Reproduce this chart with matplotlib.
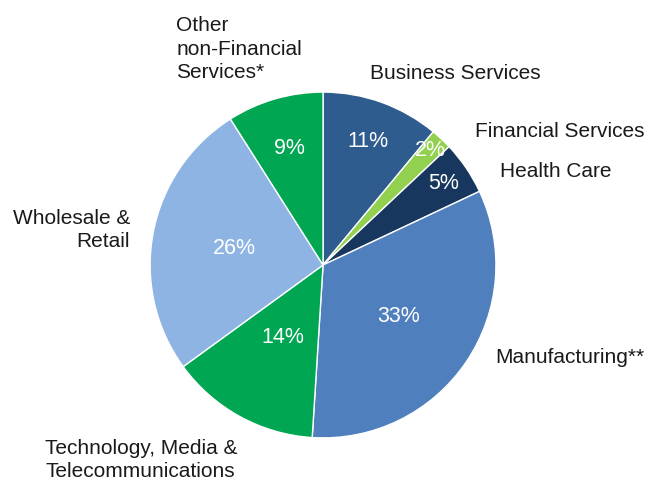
import numpy as np
import matplotlib
matplotlib.use("Agg")
import matplotlib.pyplot as plt

plt.rcParams['font.family'] = ['Liberation Sans', 'DejaVu Sans']

# sector shares, clockwise from 12 o'clock
sectors = ['Business Services', 'Financial Services', 'Health Care', 'Manufacturing**',
           'Technology, Media &\nTelecommunications', 'Wholesale &\nRetail',
           'Other\nnon-Financial\nServices*']
shares = [11, 2, 5, 33, 14, 26, 9]
colors = ['#2E5C8F', '#92D050', '#17375E', '#4F7FBD', '#00A651', '#8DB4E2', '#00A651']

# how far out each percentage sits (fraction of radius)
pct_r = [0.76, 0.91, 0.84, 0.53, 0.48, 0.52, 0.70]

fig = plt.figure(figsize=(6.5, 4.84), dpi=100)
ax = fig.add_axes([0.231, 0.095, 0.532, 0.715])

wedges, _ = ax.pie(shares, colors=colors, startangle=90, counterclock=False,
                   radius=1, wedgeprops=dict(edgecolor='white', linewidth=1))
ax.set_xlim(-1, 1)
ax.set_ylim(-1, 1)
ax.set_aspect('equal')
ax.axis('off')

for w, s, r in zip(wedges, shares, pct_r):
    mid = np.deg2rad((w.theta1 + w.theta2) / 2)
    ax.text(r * np.cos(mid), r * np.sin(mid), f'{s}%', color='white',
            fontsize=15.5, ha='center', va='center')

# category labels, positions in pie-radius units
R, cx, cy = 173.0, 323.0, 265.0
def pos(px, py):
    return (px - cx) / R, (cy - py) / R

lab_kw = dict(fontsize=15, color='#1a1a1a', clip_on=False, linespacing=1.3)
ax.text(*pos(370, 73), sectors[0], ha='left', va='center', **lab_kw)
ax.text(*pos(475, 131), sectors[1], ha='left', va='center', **lab_kw)
ax.text(*pos(500, 171), sectors[2], ha='left', va='center', **lab_kw)
ax.text(*pos(495, 358), sectors[3], ha='left', va='center', **lab_kw)
ax.text(*pos(45, 460), sectors[4], ha='left', va='center', **lab_kw)
ax.text(*pos(130, 230), sectors[5], ha='right', va='center', multialignment='right', **lab_kw)
ax.text(*pos(176, 49), sectors[6], ha='left', va='center', **lab_kw)

fig.savefig('out.png', dpi=100)
